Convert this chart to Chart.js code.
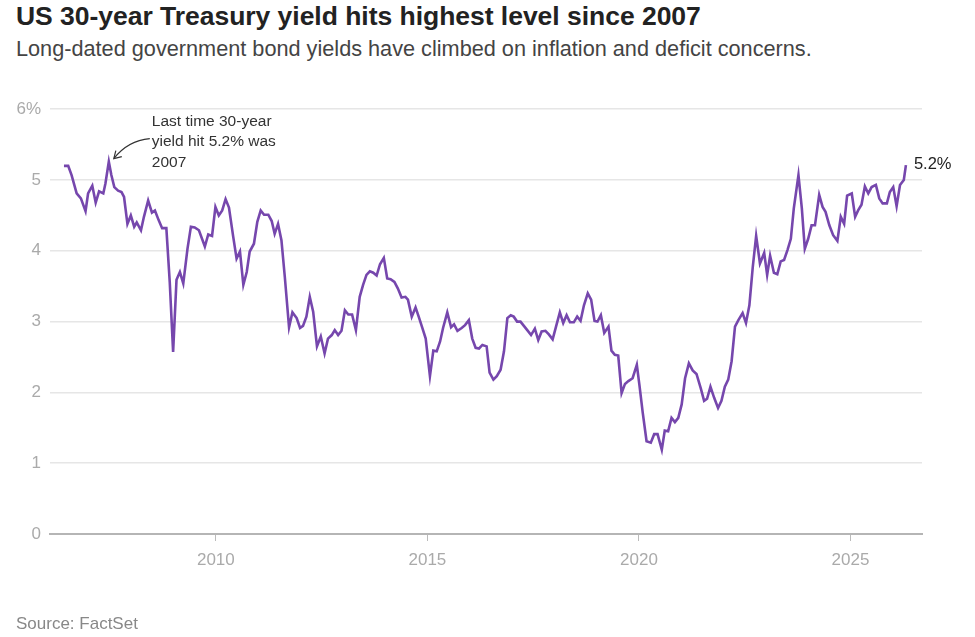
<!DOCTYPE html>
<html>
<head>
<meta charset="utf-8">
<script src="https://cdn.jsdelivr.net/npm/chart.js@4/dist/chart.umd.min.js"></script>
<style>
  body { margin: 0; background: #fff; font-family: "Liberation Sans", Arial, sans-serif; }
  #wrap { position: relative; width: 975px; height: 637px; overflow: hidden; }
  .title { position: absolute; left: 16px; top: 1px; font-size: 26.5px; font-weight: bold; color: #222; letter-spacing: -0.03px; }
  .sub { position: absolute; left: 16px; top: 36px; font-size: 21.7px; color: #444; }
  .src { position: absolute; left: 16px; top: 614px; font-size: 17px; color: #888; }
  #box { position: absolute; left: 0; top: 90px; }
</style>
</head>
<body>
<div id="wrap">
  <div class="title">US 30-year Treasury yield hits highest level since 2007</div>
  <div class="sub">Long-dated government bond yields have climbed on inflation and deficit concerns.</div>
  <div id="box"><canvas id="chart" width="975" height="540"></canvas></div>
  <div class="src">Source: FactSet</div>
</div>
<script>
// decimal year -> yield (%)
const dates = [
  2006.41, 2006.51, 2006.59, 2006.71, 2006.81, 2006.92, 2006.98, 2007.08, 2007.16, 2007.24,
  2007.34, 2007.39, 2007.47, 2007.53, 2007.60, 2007.69, 2007.77, 2007.83, 2007.91, 2007.99,
  2008.07, 2008.13, 2008.23, 2008.30, 2008.40, 2008.49, 2008.56, 2008.65, 2008.73, 2008.83,
  2008.91, 2008.99, 2009.07, 2009.15, 2009.23, 2009.33, 2009.41, 2009.50, 2009.60, 2009.74,
  2009.82, 2009.91, 2009.99, 2010.07, 2010.15, 2010.23, 2010.31, 2010.41, 2010.49, 2010.57,
  2010.65, 2010.73, 2010.80, 2010.90, 2010.98, 2011.06, 2011.14, 2011.24, 2011.32, 2011.39,
  2011.47, 2011.55, 2011.63, 2011.73, 2011.81, 2011.91, 2011.99, 2012.06, 2012.14, 2012.22,
  2012.30, 2012.39, 2012.48, 2012.57, 2012.65, 2012.74, 2012.81, 2012.89, 2012.97, 2013.05,
  2013.13, 2013.22, 2013.31, 2013.40, 2013.48, 2013.56, 2013.64, 2013.72, 2013.80, 2013.88,
  2013.97, 2014.05, 2014.13, 2014.22, 2014.30, 2014.39, 2014.48, 2014.54, 2014.63, 2014.72,
  2014.80, 2014.88, 2014.96, 2015.06, 2015.14, 2015.22, 2015.30, 2015.37, 2015.47, 2015.56,
  2015.63, 2015.71, 2015.81, 2015.89, 2015.98, 2016.06, 2016.14, 2016.22, 2016.30, 2016.40,
  2016.47, 2016.56, 2016.64, 2016.73, 2016.81, 2016.89, 2016.97, 2017.04, 2017.12, 2017.20,
  2017.28, 2017.36, 2017.45, 2017.54, 2017.62, 2017.70, 2017.79, 2017.87, 2017.96, 2018.04,
  2018.13, 2018.21, 2018.29, 2018.37, 2018.46, 2018.54, 2018.62, 2018.70, 2018.79, 2018.87,
  2018.95, 2019.02, 2019.10, 2019.18, 2019.28, 2019.35, 2019.43, 2019.51, 2019.59, 2019.67,
  2019.75, 2019.85, 2019.95, 2020.01, 2020.09, 2020.18, 2020.28, 2020.36, 2020.44, 2020.54,
  2020.61, 2020.69, 2020.77, 2020.85, 2020.93, 2021.01, 2021.09, 2021.18, 2021.27, 2021.36,
  2021.46, 2021.54, 2021.61, 2021.69, 2021.78, 2021.87, 2021.95, 2022.03, 2022.11, 2022.19,
  2022.27, 2022.35, 2022.45, 2022.53, 2022.61, 2022.69, 2022.77, 2022.86, 2022.96, 2023.03,
  2023.10, 2023.19, 2023.27, 2023.35, 2023.43, 2023.51, 2023.59, 2023.66, 2023.77, 2023.85,
  2023.92, 2024.00, 2024.08, 2024.16, 2024.26, 2024.34, 2024.41, 2024.50, 2024.59, 2024.69,
  2024.77, 2024.85, 2024.92, 2025.03, 2025.11, 2025.18, 2025.26, 2025.34, 2025.42, 2025.50,
  2025.60, 2025.68, 2025.76, 2025.86, 2025.93, 2026.01, 2026.09, 2026.17, 2026.26, 2026.31
];
const yields = [
  5.20, 5.20, 5.07, 4.81, 4.74, 4.56, 4.81, 4.92, 4.68, 4.84,
  4.81, 4.95, 5.26, 5.07, 4.90, 4.85, 4.83, 4.76, 4.38, 4.50,
  4.34, 4.40, 4.29, 4.48, 4.71, 4.54, 4.57, 4.43, 4.32, 4.32,
  3.56, 2.57, 3.59, 3.70, 3.54, 4.03, 4.34, 4.33, 4.29, 4.06,
  4.23, 4.21, 4.62, 4.50, 4.57, 4.73, 4.61, 4.20, 3.89, 3.99,
  3.52, 3.70, 3.99, 4.10, 4.41, 4.57, 4.51, 4.51, 4.42, 4.24,
  4.38, 4.15, 3.63, 2.92, 3.13, 3.05, 2.91, 2.94, 3.07, 3.35,
  3.14, 2.65, 2.79, 2.55, 2.76, 2.81, 2.88, 2.81, 2.87, 3.16,
  3.10, 3.10, 2.88, 3.35, 3.52, 3.66, 3.71, 3.69, 3.65, 3.81,
  3.90, 3.61, 3.60, 3.56, 3.47, 3.34, 3.35, 3.31, 3.07, 3.20,
  3.06, 2.91, 2.76, 2.23, 2.59, 2.58, 2.72, 2.91, 3.13, 2.92,
  2.96, 2.87, 2.91, 2.95, 3.02, 2.76, 2.63, 2.62, 2.67, 2.65,
  2.28, 2.18, 2.23, 2.32, 2.58, 3.05, 3.09, 3.07, 3.00, 3.00,
  2.94, 2.88, 2.81, 2.90, 2.74, 2.86, 2.87, 2.82, 2.75, 2.93,
  3.13, 2.98, 3.09, 2.99, 2.99, 3.07, 3.01, 3.23, 3.40, 3.31,
  3.01, 3.00, 3.09, 2.84, 2.93, 2.59, 2.53, 2.52, 1.99, 2.12,
  2.16, 2.20, 2.39, 2.11, 1.71, 1.31, 1.29, 1.41, 1.41, 1.19,
  1.46, 1.45, 1.64, 1.58, 1.64, 1.83, 2.20, 2.41, 2.31, 2.26,
  2.06, 1.88, 1.91, 2.08, 1.92, 1.78, 1.88, 2.08, 2.18, 2.44,
  2.93, 3.02, 3.12, 2.98, 3.23, 3.77, 4.21, 3.82, 3.97, 3.66,
  3.93, 3.69, 3.67, 3.85, 3.87, 4.01, 4.17, 4.60, 5.07, 4.60,
  4.03, 4.17, 4.36, 4.36, 4.79, 4.62, 4.55, 4.36, 4.22, 4.14,
  4.48, 4.38, 4.78, 4.81, 4.48, 4.57, 4.65, 4.91, 4.81, 4.90,
  4.93, 4.74, 4.67, 4.67, 4.83, 4.90, 4.63, 4.93, 5.00, 5.21
];
const xTicks = [2010, 2015, 2020, 2025];
const yTicks = [0, 1, 2, 3, 4, 5, 6];
const noteLines = ['Last time 30-year', 'yield hit 5.2% was', '2007'];
const endLabel = '5.2%';

const purple = '#7647ad';
const font = '"Liberation Sans", Arial, sans-serif';

const points = dates.map((d, i) => ({ x: d, y: yields[i] }));

// annotation + end label
const notes = {
  id: 'notes',
  afterDatasetsDraw(chart) {
    const ctx = chart.ctx;
    const xs = chart.scales.x, ys = chart.scales.y;
    // peak in 2007
    let pk = 0;
    for (let i = 0; i < dates.length; i++) { if (dates[i] < 2008 && yields[i] > yields[pk]) pk = i; }
    const tx = xs.getPixelForValue(dates[pk]) + 5;
    const ty = ys.getPixelForValue(yields[pk]) - 3;
    ctx.save();
    ctx.fillStyle = '#333';
    ctx.font = '15.5px ' + font;
    ctx.textBaseline = 'middle';
    ctx.textAlign = 'left';
    noteLines.forEach((t, i) => ctx.fillText(t, tx + 38, ty - 37 + i * 20.5));
    // curved arrow
    ctx.strokeStyle = '#333';
    ctx.lineWidth = 1.2;
    ctx.beginPath();
    ctx.moveTo(tx + 36, ty - 20);
    ctx.quadraticCurveTo(tx + 14, ty - 18, tx, ty);
    ctx.stroke();
    ctx.beginPath();
    ctx.moveTo(tx + 2, ty - 8);
    ctx.lineTo(tx, ty);
    ctx.lineTo(tx + 8, ty - 2);
    ctx.stroke();
    // end label
    const n = dates.length - 1;
    ctx.fillStyle = '#222';
    ctx.font = '16.5px ' + font;
    ctx.fillText(endLabel, xs.getPixelForValue(dates[n]) + 8, ys.getPixelForValue(yields[n]) - 1);
    ctx.restore();
  }
};

new Chart(document.getElementById('chart'), {
  type: 'line',
  data: {
    datasets: [{
      data: points,
      borderColor: purple,
      borderWidth: 2.6,
      pointRadius: 0,
      tension: 0,
      fill: false
    }]
  },
  options: {
    responsive: false,
    animation: false,
    events: [],
    layout: { padding: { top: 16, right: 53, left: 0, bottom: 0 } },
    plugins: { legend: { display: false }, tooltip: { enabled: false } },
    scales: {
      x: {
        type: 'linear',
        min: 2006.08,
        max: 2026.69,
        afterBuildTicks: s => { s.ticks = xTicks.map(v => ({ value: v })); },
        afterFit: s => { s.height = 96; },
        ticks: {
          callback: v => String(v),
          color: '#aaa',
          font: { family: font, size: 17 },
          padding: 9,
          maxRotation: 0
        },
        grid: { drawOnChartArea: false, drawTicks: true, tickLength: 7, color: '#bbb', lineWidth: 1 },
        border: { display: true, color: '#b5b5b5', width: 2 }
      },
      y: {
        min: 0,
        max: 6,
        afterBuildTicks: s => { s.ticks = yTicks.map(v => ({ value: v })); },
        afterFit: s => { s.width = 50; },
        ticks: {
          callback: v => v === 6 ? '6%' : String(v),
          color: '#aaa',
          font: { family: font, size: 17 },
          padding: 9
        },
        grid: { color: '#e6e6e6', lineWidth: 1.5, drawTicks: false },
        border: { display: false }
      }
    }
  },
  plugins: [notes]
});
</script>
</body>
</html>
